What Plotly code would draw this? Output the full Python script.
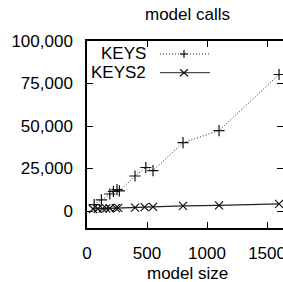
import plotly.graph_objects as go

title_text = "model calls"
x_title = "model size"

keys_x = [60, 120, 190, 220, 250, 270, 400, 490, 550, 800, 1100, 1600]
keys_y = [3800, 6600, 10000, 11500, 12600, 11800, 20600, 25600, 23800, 40200, 47300, 80300]

keys2_x = [50, 90, 130, 160, 190, 240, 260, 400, 480, 550, 800, 1100, 1600]
keys2_y = [1200, 1300, 1400, 1500, 1600, 1700, 1800, 2000, 2300, 2400, 3000, 3300, 4200]

series_names = ["KEYS", "KEYS2"]
y_ticks = [0, 25000, 50000, 75000, 100000]
y_ticklabels = ["0", "25,000", "50,000", "75,000", "100,000"]
x_ticks = [0, 500, 1000, 1500]

FONT = "Liberation Sans, Arial, sans-serif"
fs = 17
DOT = "1px,2px"

fig = go.Figure()
fig.add_trace(go.Scatter(
    x=keys_x, y=keys_y, mode="lines+markers", name=series_names[0],
    line=dict(color="#222", width=1, dash=DOT),
    marker=dict(symbol="cross-thin", size=8, line=dict(color="#111", width=1.2)),
    showlegend=False, cliponaxis=True))
fig.add_trace(go.Scatter(
    x=keys2_x, y=keys2_y, mode="lines+markers", name=series_names[1],
    line=dict(color="#222", width=1.3),
    marker=dict(symbol="x-thin", size=8, line=dict(color="#111", width=1.2)),
    showlegend=False, cliponaxis=True))

# manual gnuplot-style legend (text left of sample)
leg_rows = [(0.9305, DOT, "cross-thin"), (0.8305, "solid", "x-thin")]
shapes = []
annotations = []
for (yy, dash, sym), name in zip(leg_rows, series_names):
    annotations.append(dict(text=name, xref="paper", yref="paper", x=0.3112, y=yy,
                            xanchor="right", yanchor="middle", showarrow=False,
                            font=dict(family=FONT, size=fs, color="black")))
    shapes.append(dict(type="line", xref="paper", yref="paper", x0=0.3724, x1=0.6276,
                       y0=yy, y1=yy, line=dict(color="#222", width=1, dash=dash)))
    if sym == "cross-thin":
        shapes.append(dict(type="line", xref="paper", yref="paper", xsizemode="pixel",
                           ysizemode="pixel", xanchor=0.4949, yanchor=yy,
                           x0=-4, x1=4, y0=0, y1=0, line=dict(color="#111", width=1.2)))
        shapes.append(dict(type="line", xref="paper", yref="paper", xsizemode="pixel",
                           ysizemode="pixel", xanchor=0.4949, yanchor=yy,
                           x0=0, x1=0, y0=-4, y1=4, line=dict(color="#111", width=1.2)))
    else:
        shapes.append(dict(type="line", xref="paper", yref="paper", xsizemode="pixel",
                           ysizemode="pixel", xanchor=0.4949, yanchor=yy,
                           x0=-4, x1=4, y0=-3.5, y1=3.5, line=dict(color="#111", width=1.2)))
        shapes.append(dict(type="line", xref="paper", yref="paper", xsizemode="pixel",
                           ysizemode="pixel", xanchor=0.4949, yanchor=yy,
                           x0=-4, x1=4, y0=3.5, y1=-3.5, line=dict(color="#111", width=1.2)))

annotations.append(dict(text=title_text, xref="paper", yref="paper", x=0.515, y=1,
                        yshift=27, xanchor="center", yanchor="middle", showarrow=False,
                        font=dict(family=FONT, size=fs, color="black")))
annotations.append(dict(text=x_title, xref="paper", yref="paper", x=0.515, y=0,
                        yshift=-45, xanchor="center", yanchor="middle", showarrow=False,
                        font=dict(family=FONT, size=fs, color="black")))

fig.update_layout(
    width=283, height=282,
    margin=dict(l=87, r=0, t=41, b=54, pad=0, autoexpand=False),
    paper_bgcolor="white", plot_bgcolor="white",
    font=dict(family=FONT, size=fs, color="black"),
    shapes=shapes, annotations=annotations,
    showlegend=False,
)
fig.update_xaxes(range=[0, 1633], tickvals=x_ticks, ticks="inside", ticklen=6,
                 tickcolor="black", showline=True, linecolor="black", linewidth=1.5,
                 mirror="ticks", showgrid=False, zeroline=False, automargin=False,
                 ticklabelstandoff=9, ticklabeloverflow="allow",
                 tickfont=dict(family=FONT, size=fs))
fig.update_yaxes(range=[-10000, 100000], tickvals=y_ticks, ticktext=y_ticklabels,
                 ticks="inside", ticklen=6, tickcolor="black", showline=True,
                 linecolor="black", linewidth=1.5, mirror="ticks", showgrid=False,
                 zeroline=False, automargin=False, ticklabelstandoff=9,
                 ticklabeloverflow="allow", tickfont=dict(family=FONT, size=fs))

fig.write_html("out.html", config={"displayModeBar": False},
               post_script="document.body.style.margin='0';document.body.style.overflow='hidden';")
